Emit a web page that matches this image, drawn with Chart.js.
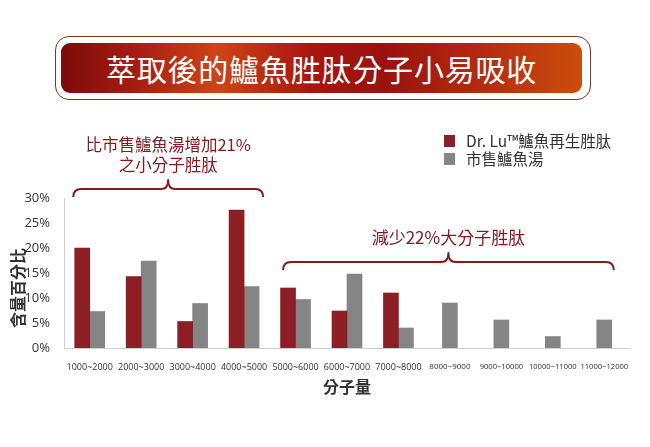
<!DOCTYPE html>
<html>
<head>
<meta charset="utf-8">
<script src="https://cdn.jsdelivr.net/npm/chart.js@4"></script>
<style>
  html, body { margin: 0; padding: 0; background: #fff; }
  #wrap { position: relative; width: 650px; height: 447px; overflow: hidden; }
  #chart { position: absolute; left: 0; top: 0; }
  #bannerOuter {
    position: absolute; left: 55px; top: 36px; width: 534px; height: 62px;
    border: 1.5px solid #7a3524; border-radius: 14px; background: #fff;
  }
  #bannerInner {
    position: absolute; left: 61px; top: 43px; width: 521px; height: 50px;
    border-radius: 9px;
    background: linear-gradient(90deg, #7c0b0b 0%, #a81e12 15%, #cf4416 30%, #a8160f 48%, #9a120e 62%, #b32a10 80%, #cc4d0c 100%);
    color: #fff; font-family: "Noto Sans CJK TC", "Noto Sans", sans-serif;
    font-size: 30px; line-height: 50px; text-align: center; letter-spacing: 0.8px;
  }
</style>
</head>
<body>
<div id="wrap">
  <canvas id="chart" width="650" height="447"></canvas>
  <div id="bannerOuter"></div>
  <div id="bannerInner">萃取後的鱸魚胜肽分子小易吸收</div>
</div>
<script>
// ---- data ----
const categories = ["1000~2000","2000~3000","3000~4000","4000~5000","5000~6000","6000~7000","7000~8000","8000~9000","9000~10000","10000~11000","11000~12000"];
const drLuValues = [20, 14.3, 5.3, 27.6, 12, 7.4, 11, null, null, null, null];
const marketValues = [7.3, 17.4, 8.9, 12.3, 9.7, 14.8, 4, 9, 5.6, 2.3, 5.6];
const seriesNames = ["Dr. Lu™鱸魚再生胜肽", "市售鱸魚湯"];
const yTicks = [0, 5, 10, 15, 20, 25, 30];
const yAxisTitle = "含量百分比";
const xAxisTitle = "分子量";
const braceNotes = [
  { from: 0, to: 3, level: 30.2, lines: ["比市售鱸魚湯增加21%", "之小分子胜肽"] },
  { from: 4, to: 10, level: 15.6, lines: ["減少22%大分子胜肽"] }
];

const RED = "#8c1f25";
const NOTE = "#861a20";
const GRAY = "#858585";
const DARK = "#333333";
const FONT = '"Open Sans", "Noto Sans CJK TC", sans-serif';
const CJK = '"Noto Sans CJK TC", "Open Sans", sans-serif';

const decor = {
  id: "decor",
  afterDraw(chart) {
    const ctx = chart.ctx;
    const xs = chart.scales.x, ys = chart.scales.y;
    ctx.save();
    const pads = [[16.5, 19], [12.5, 9.5]];
    braceNotes.forEach((b, i) => {
      const L = xs.getPixelForValue(b.from) - pads[i][0];
      const R = xs.getPixelForValue(b.to) + pads[i][1];
      const mid = (L + R) / 2;
      const base = ys.getPixelForValue(b.level);
      const h = base - 8, peak = base - 17;
      ctx.strokeStyle = NOTE; ctx.lineWidth = 2; ctx.lineJoin = "round";
      ctx.beginPath();
      ctx.moveTo(L, base);
      ctx.quadraticCurveTo(L, h, L + 8, h);
      ctx.lineTo(mid - 7, h);
      ctx.quadraticCurveTo(mid, h, mid, peak);
      ctx.quadraticCurveTo(mid, h, mid + 7, h);
      ctx.lineTo(R - 8, h);
      ctx.quadraticCurveTo(R, h, R, base);
      ctx.stroke();
      ctx.fillStyle = NOTE;
      ctx.font = (i === 0 ? 16.5 : 17) + "px " + CJK;
      ctx.textAlign = "center"; ctx.textBaseline = "middle";
      const n = b.lines.length;
      b.lines.forEach((t, k) => {
        ctx.fillText(t, mid, peak - 15 - (n - 1 - k) * 20);
      });
    });
    const colors = [RED, GRAY];
    ctx.font = "15.5px " + CJK;
    ctx.textAlign = "left"; ctx.textBaseline = "middle";
    seriesNames.forEach((name, k) => {
      const y = 141 + k * 18;
      ctx.fillStyle = colors[k];
      ctx.fillRect(444, y - 6, 11, 12);
      ctx.fillStyle = DARK;
      ctx.fillText(name, 466, y);
    });
    ctx.translate(18, 288);
    ctx.rotate(-Math.PI / 2);
    ctx.font = "bold 16px " + CJK;
    ctx.textAlign = "center"; ctx.textBaseline = "middle";
    ctx.fillStyle = DARK;
    ctx.fillText(yAxisTitle, 0, 0);
    ctx.restore();
  }
};

new Chart(document.getElementById("chart"), {
  type: "bar",
  data: {
    labels: categories,
    datasets: [
      { label: seriesNames[0], data: drLuValues, backgroundColor: RED, skipNull: true, barThickness: 15 },
      { label: seriesNames[1], data: marketValues, backgroundColor: GRAY, skipNull: true, barThickness: 15 }
    ]
  },
  options: {
    responsive: false,
    animation: false,
    layout: { padding: { top: 198, right: 20, bottom: 40, left: 0 } },
    plugins: { legend: { display: false }, tooltip: { enabled: false } },
    scales: {
      x: {
        grid: { display: false },
        border: { display: true, color: "#cfcfcf", width: 1 },
        ticks: {
          autoSkip: false, maxRotation: 0, minRotation: 0, padding: 6, color: DARK,
          font: (c) => ({ family: FONT, size: c.index >= 8 ? 7.6 : (c.index === 7 ? 8 : 9) })
        },
        title: { display: true, text: xAxisTitle, color: DARK,
          font: { family: CJK, size: 16, weight: "bold" }, padding: { top: 0, bottom: 10 } },
        afterFit: (s) => { s.height = 59; }
      },
      y: {
        min: 0, max: 30,
        afterBuildTicks: (s) => { s.ticks = yTicks.map(v => ({ value: v })); },
        grid: { display: false },
        border: { display: true, color: "#cfcfcf", width: 1 },
        ticks: { padding: 6, color: DARK, font: { family: FONT, size: 13 },
          callback: (v) => v + "%" },
        afterFit: (s) => { s.width = 64; }
      }
    }
  },
  plugins: [decor]
});
</script>
</body>
</html>
